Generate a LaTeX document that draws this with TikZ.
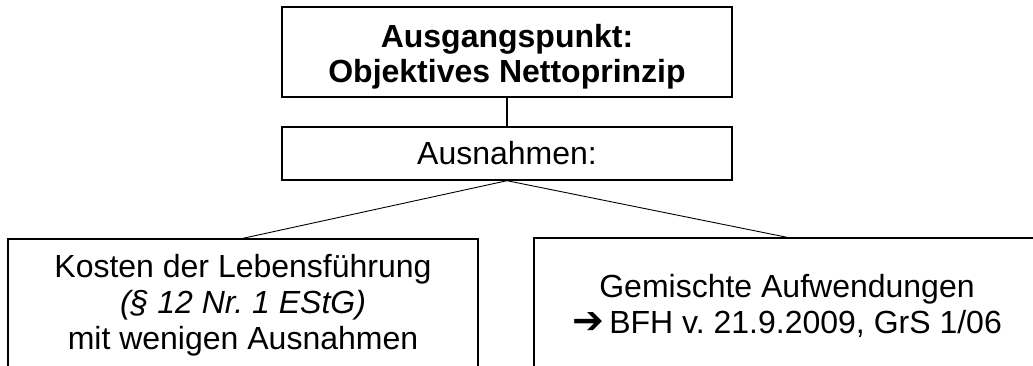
\documentclass[tikz,border=0pt]{standalone}
\usepackage{fontspec}
\setmainfont{Liberation Sans}
\newfontfamily\symfont{DejaVu Sans}
\frenchspacing
\begin{document}
\begin{tikzpicture}[x=1pt,y=-1pt,
  boxstyle/.style={draw=black, line width=1.4pt, rectangle, align=center,
    inner sep=0pt, font=\fontsize{32}{36}\selectfont},
  linkthin/.style={draw=black, line width=0.9pt},
  linkthick/.style={draw=black, line width=1.4pt}]
\useasboundingbox (0,0) rectangle (1033,365);
\clip (0,0) rectangle (1033,365);
\node[boxstyle, minimum width=450pt, minimum height=90pt,
  font=\fontsize{32}{35}\selectfont\bfseries] (top) at (507,52)
  {\rule{0pt}{31.7pt}Ausgangspunkt:\\ Objektives Nettoprinzip};
\node[boxstyle, minimum width=450pt, minimum height=53pt] (aus) at (507,153.5)
  {Ausnahmen:};
\node[boxstyle, minimum width=470pt, minimum height=132pt] (left) at (243,305)
  {Kosten der Lebensführung\\ \itshape (§ 12 Nr. 1 EStG)\\ mit wenigen Ausnahmen};
\node[boxstyle, minimum width=506pt, minimum height=135pt] (right) at (787,305.5)
  {Gemischte Aufwendungen\\ {\symfont\fontsize{38}{36}\selectfont ➔}\,BFH v. 21.9.2009, GrS 1/06};
\draw[linkthick] (top.south) -- (aus.north);
\draw[linkthin] (aus.south) -- (left.north);
\draw[linkthin] (aus.south) -- (right.north);
\end{tikzpicture}
\end{document}
